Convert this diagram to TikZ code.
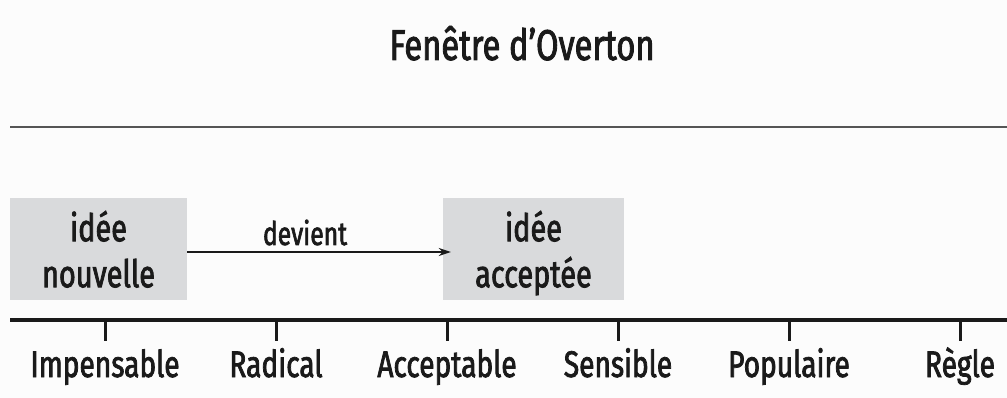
\documentclass[tikz,border=0pt]{standalone}
\usepackage{fontspec}
\setmainfont{Fira Sans}[FakeStretch=0.76, FakeBold=2]
\usetikzlibrary{arrows.meta}
\definecolor{bg}{HTML}{FCFCFC}
\definecolor{boxgray}{HTML}{D9DADC}
\definecolor{ink}{HTML}{1A1A1A}
\definecolor{rulegray}{HTML}{555555}
\tikzset{
  ideabox/.style={fill=boxgray, draw=none, minimum width=#1, minimum height=102pt, inner sep=0pt,
    align=center, text=ink, text depth=0pt, font=\fontsize{38}{46}\selectfont},
  ticklabel/.style={anchor=base, text=ink, inner sep=0pt, font=\fontsize{37}{40}\selectfont},
  tickmark/.style={draw=ink, line width=3pt},
  arr/.style={draw=ink, line width=1.5pt, -{Stealth[length=12pt,width=8pt]}},
}
\begin{document}
\begin{tikzpicture}[x=1pt,y=-1pt]
\useasboundingbox[fill=bg] (0,0) rectangle (1007,398);
% title
\node[anchor=base, text=ink, inner sep=0pt, font=\fontsize{43}{48}\selectfont] (title) at (522,60) {Fenêtre d’Overton};
% top rule
\coordinate (r1) at (10,127);
\coordinate (r2) at (1007,127);
\draw[rulegray, line width=2.8pt] (r1) -- (r2);
% boxes
\node[ideabox=177pt] (b1) at (98.5,249) {idée\\nouvelle};
\node[ideabox=181pt] (b2) at (533.5,249) {idée\\acceptée};
% arrow
\draw[arr] ([yshift=-3pt]b1.east) -- ([xshift=8pt,yshift=-3pt]b2.west)
  node[pos=0.447, anchor=base, yshift=7pt, text=ink, inner sep=0pt, font=\fontsize{32.5}{40}\selectfont] (dv) {devient};
% axis
\coordinate (a1) at (10,320);
\coordinate (a2) at (1007,320);
\draw[ink, line width=4pt] (a1) -- (a2);
\foreach \i/\x/\t in {1/105/Impensable, 2/276/Radical, 3/447/Acceptable, 4/618/Sensible, 5/789/Populaire, 6/960/Règle}{
  \coordinate (t\i) at (\x,320);
  \draw[tickmark] (t\i) -- ++(0,21);
  \node[ticklabel] (l\i) at (\x,377) {\t};
}
\end{tikzpicture}
\end{document}
